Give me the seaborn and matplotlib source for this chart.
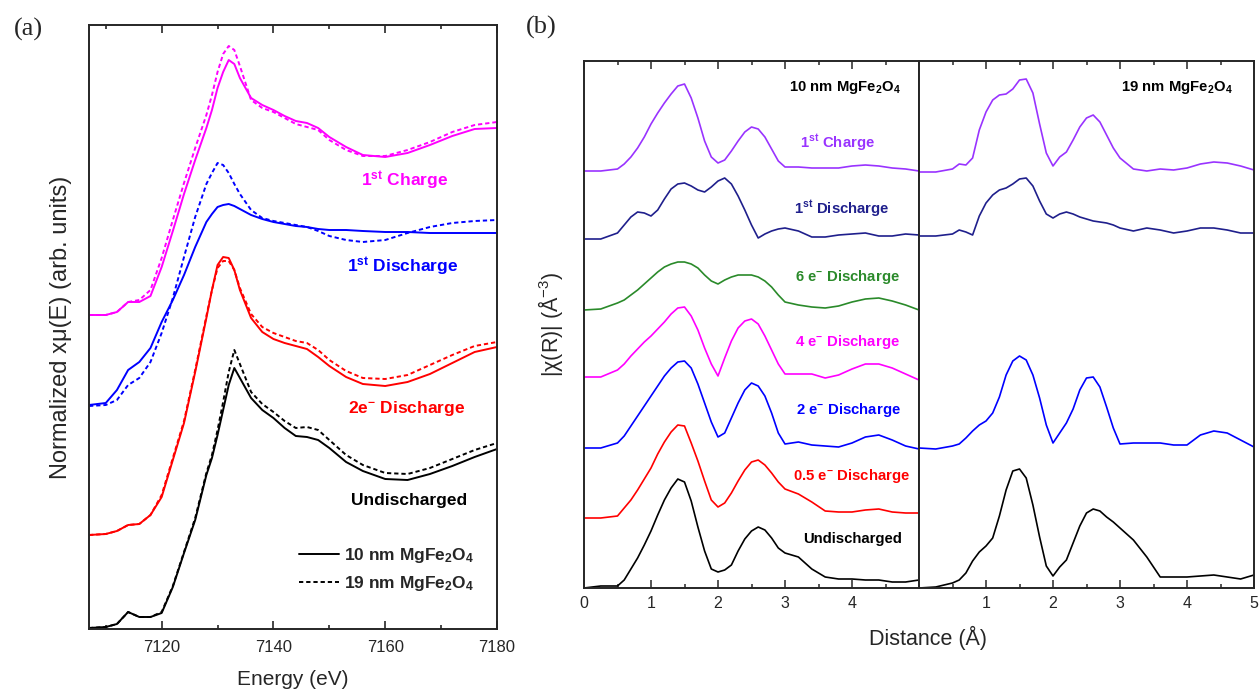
import matplotlib
matplotlib.use("Agg")
import matplotlib.pyplot as plt
from matplotlib.ticker import MultipleLocator, FixedLocator, NullLocator
from matplotlib.lines import Line2D
import pandas as pd
import seaborn as sns

# ---------------- Panel (a): Fe K-edge XANES (arb. units) ----------------
energy = [7107, 7110, 7112, 7114, 7116, 7118, 7120, 7122, 7124, 7126, 7128, 7129,
          7130, 7131, 7132, 7133, 7134, 7136, 7138, 7140, 7142, 7144, 7146, 7148,
          7150, 7153, 7156, 7160, 7164, 7168, 7172, 7176, 7180]

charge_10 = [314, 314, 317, 327, 327, 333, 362, 398, 435, 469, 501, 519, 541, 557, 569, 565, 551,
             531, 524, 519, 513, 508, 506, 501, 492, 482, 474, 472, 476, 484, 493, 500, 501]
charge_19 = [314, 314, 317, 327, 329, 339, 371, 409, 446, 481, 514, 534, 557, 575, 583, 579, 563,
             529, 521, 517, 511, 505, 502, 499, 489, 479, 473, 473, 479, 487, 497, 504, 507]
disch1_10 = [224, 226, 239, 259, 267, 281, 307, 329, 354, 382, 407, 415, 422, 424, 425, 423, 420,
             414, 410, 407, 405, 403, 402, 400, 399, 399, 398, 397, 397, 396, 396, 396, 396]
disch1_19 = [223, 224, 229, 244, 251, 267, 296, 331, 372, 412, 445, 456, 466, 464, 456, 445, 435,
             419, 411, 408, 406, 404, 402, 398, 393, 389, 387, 389, 396, 402, 406, 408, 409]
disch2_10 = [94, 95, 98, 104, 105, 114, 132, 169, 206, 257, 311, 339, 364, 372, 371, 359, 339,
             311, 297, 290, 286, 283, 280, 272, 263, 252, 245, 243, 247, 255, 266, 277, 282]
disch2_19 = [94, 95, 98, 104, 105, 114, 134, 171, 208, 259, 313, 339, 361, 368, 368, 359, 341,
             315, 302, 296, 292, 288, 286, 279, 269, 258, 251, 250, 254, 264, 274, 283, 287]
undis_10 = [1, 2, 5, 17, 12, 12, 16, 42, 76, 109, 154, 171, 194, 219, 244, 261, 251,
            231, 219, 211, 201, 193, 192, 189, 181, 167, 158, 150, 149, 155, 163, 172, 180]
undis_19 = [1, 2, 5, 17, 12, 12, 17, 43, 77, 111, 156, 174, 199, 227, 257, 279, 265,
            237, 225, 217, 208, 201, 202, 199, 189, 174, 164, 156, 155, 161, 170, 179, 186]

# ---------------- Panel (b): Fourier-transformed EXAFS |chi(R)| ----------------
distance = [0, 0.25, 0.5, 0.6, 0.7, 0.8, 0.9, 1.0, 1.1, 1.2, 1.3, 1.4, 1.5, 1.6, 1.7, 1.8, 1.9,
            2.0, 2.1, 2.2, 2.3, 2.4, 2.5, 2.6, 2.7, 2.8, 2.9, 3.0, 3.2, 3.4, 3.6, 3.8, 4.0,
            4.2, 4.4, 4.6, 4.8, 5.0]

b10_charge = [417, 417, 419, 424, 431, 440, 451, 464, 475, 485, 494, 502, 504, 490, 470, 447, 431,
              425, 428, 437, 447, 456, 461, 459, 451, 439, 427, 421, 421, 420, 420, 420, 422,
              423, 422, 420, 419, 417]
b10_disch1 = [349, 349, 355, 363, 371, 376, 375, 372, 378, 389, 399, 404, 405, 402, 398, 396, 401,
              407, 410, 404, 392, 378, 363, 350, 354, 357, 359, 360, 357, 351, 351, 353, 354,
              355, 352, 352, 354, 353]
b10_disch6 = [278, 279, 285, 288, 293, 298, 304, 310, 316, 321, 324, 326, 326, 324, 320, 313, 307,
              304, 308, 311, 313, 313, 313, 311, 307, 301, 293, 286, 283, 281, 280, 282, 286,
              289, 290, 287, 283, 278]
b10_disch4 = [211, 211, 218, 224, 232, 239, 246, 252, 259, 266, 274, 280, 281, 272, 258, 240, 224,
              212, 230, 247, 260, 267, 269, 264, 252, 238, 224, 214, 214, 214, 210, 213, 219,
              224, 224, 220, 214, 208]
b10_disch2 = [140, 140, 145, 152, 162, 172, 182, 192, 202, 212, 220, 226, 227, 220, 204, 185, 166,
              151, 155, 170, 185, 198, 205, 202, 192, 175, 155, 144, 146, 143, 142, 141, 145,
              151, 153, 148, 142, 139]
b10_disch05 = [70, 70, 72, 80, 88, 98, 109, 120, 134, 146, 156, 163, 162, 145, 127, 107, 88,
               81, 85, 95, 107, 118, 126, 128, 123, 115, 106, 99, 94, 86, 77, 76, 76,
               78, 79, 76, 75, 75]
b10_undis = [0, 2, 2, 8, 19, 30, 43, 57, 73, 88, 100, 109, 106, 87, 61, 37, 19,
             16, 18, 23, 37, 49, 57, 61, 58, 50, 40, 35, 31, 19, 11, 9, 9,
             8, 8, 6, 6, 8]

b19_charge = [416, 416, 419, 424, 423, 430, 458, 476, 488, 493, 494, 499, 508, 509, 495, 464, 435,
              422, 431, 436, 448, 461, 470, 473, 466, 453, 440, 430, 419, 417, 419, 418, 420,
              424, 426, 425, 422, 418]
b19_disch1 = [352, 352, 354, 358, 356, 353, 372, 385, 393, 398, 400, 404, 409, 410, 402, 387, 374,
              370, 374, 376, 374, 371, 369, 367, 366, 365, 363, 360, 357, 360, 358, 355, 357,
              360, 360, 358, 355, 355]
b19_disch2 = [140, 139, 142, 144, 150, 157, 163, 167, 175, 191, 213, 227, 232, 228, 213, 190, 163,
              145, 155, 165, 179, 198, 210, 211, 201, 181, 160, 144, 145, 145, 145, 143, 143,
              153, 157, 155, 148, 141]
b19_undis = [0, 1, 5, 8, 15, 27, 36, 42, 50, 72, 98, 117, 119, 110, 83, 51, 22,
             12, 21, 28, 45, 62, 75, 79, 77, 71, 66, 60, 48, 31, 11, 11, 11,
             12, 13, 11, 9, 13]

# ---------------- style ----------------
sns.set_style("ticks")
plt.rcParams['font.family'] = ['Liberation Sans', 'DejaVu Sans']
plt.rcParams['mathtext.fontset'] = 'custom'
plt.rcParams['mathtext.rm'] = 'Liberation Sans'
plt.rcParams['mathtext.bf'] = 'Liberation Sans:bold'
plt.rcParams['mathtext.it'] = 'Liberation Sans:italic'
plt.rcParams['axes.linewidth'] = 1.4

colors_a = {"charge": "#FF00FF", "disch1": "#0000FF", "disch2": "#FF0000", "undis": "#000000"}
colors_b = {"charge": "#9933FF", "disch1": "#1F1F8C", "disch6": "#2A8A2A", "disch4": "#FF00FF",
            "disch2": "#0000FF", "disch05": "#FF0000", "undis": "#000000"}
dash19 = (2.2, 1.5)

# long-form tables
xanes = pd.concat([
    pd.DataFrame({"energy": energy, "signal": v, "state": s, "size": z})
    for s, z, v in [("charge", "10 nm", charge_10), ("charge", "19 nm", charge_19),
                    ("disch1", "10 nm", disch1_10), ("disch1", "19 nm", disch1_19),
                    ("disch2", "10 nm", disch2_10), ("disch2", "19 nm", disch2_19),
                    ("undis", "10 nm", undis_10), ("undis", "19 nm", undis_19)]
], ignore_index=True)

exafs10 = pd.concat([
    pd.DataFrame({"R": distance, "chi": v, "state": s})
    for s, v in [("charge", b10_charge), ("disch1", b10_disch1), ("disch6", b10_disch6),
                 ("disch4", b10_disch4), ("disch2", b10_disch2), ("disch05", b10_disch05),
                 ("undis", b10_undis)]
], ignore_index=True)

exafs19 = pd.concat([
    pd.DataFrame({"R": distance, "chi": v, "state": s})
    for s, v in [("charge", b19_charge), ("disch1", b19_disch1), ("disch2", b19_disch2),
                 ("undis", b19_undis)]
], ignore_index=True)

W, H = 1260, 691
fig = plt.figure(figsize=(W / 100, H / 100), dpi=100)

def box(l, t, r, b):
    return [l / W, 1 - b / H, (r - l) / W, (b - t) / H]

axa = fig.add_axes(box(89, 25, 497, 629))
axb1 = fig.add_axes(box(584, 61, 919, 588))
axb2 = fig.add_axes(box(919, 61, 1254, 588))

# ---- panel a ----
sns.lineplot(data=xanes, x="energy", y="signal", hue="state", style="size",
             palette=colors_a, dashes={"10 nm": "", "19 nm": dash19},
             estimator=None, sort=False, lw=1.4, legend=False, ax=axa,
             solid_joinstyle='round', dash_joinstyle='round')
axa.set_xlim(7107, 7180)
axa.set_ylim(0, 604)
axa.xaxis.set_major_locator(FixedLocator([7120, 7140, 7160, 7180]))
axa.xaxis.set_minor_locator(MultipleLocator(10))
axa.yaxis.set_major_locator(NullLocator())
axa.tick_params(axis='x', which='both', direction='in', top=True, bottom=True,
                labelsize=12, pad=8)
axa.tick_params(axis='x', which='major', length=5.5, width=1.2)
axa.tick_params(axis='x', which='minor', length=3, width=1.2)
axa.set_xlabel("Energy (eV)", fontsize=15, labelpad=11)
axa.set_ylabel("Normalized xμ(E) (arb. units)", fontsize=17, labelpad=12)

lab_a = dict(fontsize=12.5, fontweight='bold', ha='center', va='center')
axa.text(7163.4, 448, r'1$^{\mathbf{st}}$ Charge', color=colors_a["charge"], **lab_a)
axa.text(7163.1, 362, r'1$^{\mathbf{st}}$ Discharge', color=colors_a["disch1"], **lab_a)
axa.text(7163.8, 221, r'2e$^{\mathbf{-}}$ Discharge', color=colors_a["disch2"], **lab_a)
axa.text(7164.3, 129, 'Undischarged', color=colors_a["undis"], **lab_a)

handles = [Line2D([], [], color='black', lw=1.4, label=r'10 nm MgFe$_{\mathbf{2}}$O$_{\mathbf{4}}$'),
           Line2D([], [], color='black', lw=1.4, linestyle=(0, dash19),
                  label=r'19 nm MgFe$_{\mathbf{2}}$O$_{\mathbf{4}}$')]
leg = axa.legend(handles=handles, loc='lower right', bbox_to_anchor=(0.965, 0.045),
                 frameon=False, handlelength=2.3, handletextpad=0.3, labelspacing=0.5,
                 borderpad=0, prop={'size': 12.5, 'weight': 'bold'})

# ---- panel b ----
for ax, df, pal in [(axb1, exafs10, {k: colors_b[k] for k in exafs10.state.unique()}),
                    (axb2, exafs19, {k: colors_b[k] for k in exafs19.state.unique()})]:
    sns.lineplot(data=df, x="R", y="chi", hue="state", palette=pal,
                 estimator=None, sort=False, lw=1.2, legend=False, ax=ax,
                 solid_joinstyle='round')
    ax.set_xlim(0, 5)
    ax.set_ylim(0, 527)
    ax.yaxis.set_major_locator(NullLocator())
    ax.xaxis.set_minor_locator(MultipleLocator(0.5))
    ax.tick_params(axis='x', which='both', direction='in', top=True, bottom=True,
                   labelsize=11.5, pad=6)
    ax.tick_params(axis='x', which='major', length=5.5, width=1.1)
    ax.tick_params(axis='x', which='minor', length=3, width=1.1)
    ax.set_xlabel("")
    ax.set_ylabel("")

axb1.xaxis.set_major_locator(FixedLocator([0, 1, 2, 3, 4]))
axb2.xaxis.set_major_locator(FixedLocator([1, 2, 3, 4, 5]))

axb1.set_ylabel(r'|χ(R)| (Å$^{\mathregular{-3}}$)', fontsize=15.5, labelpad=14)
axb1.set_xlabel(r'Distance (Å)', fontsize=15.5)
axb1.xaxis.set_label_coords(1.027, -0.072)

lab_b = dict(fontsize=10.7, fontweight='bold', ha='center', va='center')
axb1.text(3.9, 500, r'10 nm MgFe$_{\mathbf{2}}$O$_{\mathbf{4}}$', color='black', **lab_b)
axb1.text(3.78, 445, r'1$^{\mathbf{st}}$ Charge', color=colors_b["charge"], **lab_b)
axb1.text(3.85, 379, r'1$^{\mathbf{st}}$ Discharge', color=colors_b["disch1"], **lab_b)
axb1.text(3.93, 311, r'6 e$^{\mathbf{-}}$ Discharge', color=colors_b["disch6"], **lab_b)
axb1.text(3.93, 246, r'4 e$^{\mathbf{-}}$ Discharge', color=colors_b["disch4"], **lab_b)
axb1.text(3.94, 178, r'2 e$^{\mathbf{-}}$ Discharge', color=colors_b["disch2"], **lab_b)
axb1.text(4.0, 112, r'0.5 e$^{\mathbf{-}}$ Discharge', color=colors_b["disch05"], **lab_b)
axb1.text(4.01, 49, 'Undischarged', color=colors_b["undis"], **lab_b)
axb2.text(3.85, 500, r'19 nm MgFe$_{\mathbf{2}}$O$_{\mathbf{4}}$', color='black', **lab_b)

fig.text(28 / W, 1 - 29 / H, '(a)', family='Liberation Serif', fontsize=19, ha='center', va='center')
fig.text(541 / W, 1 - 27 / H, '(b)', family='Liberation Serif', fontsize=19, ha='center', va='center')

fig.savefig("out.png", dpi=100, facecolor='white')
